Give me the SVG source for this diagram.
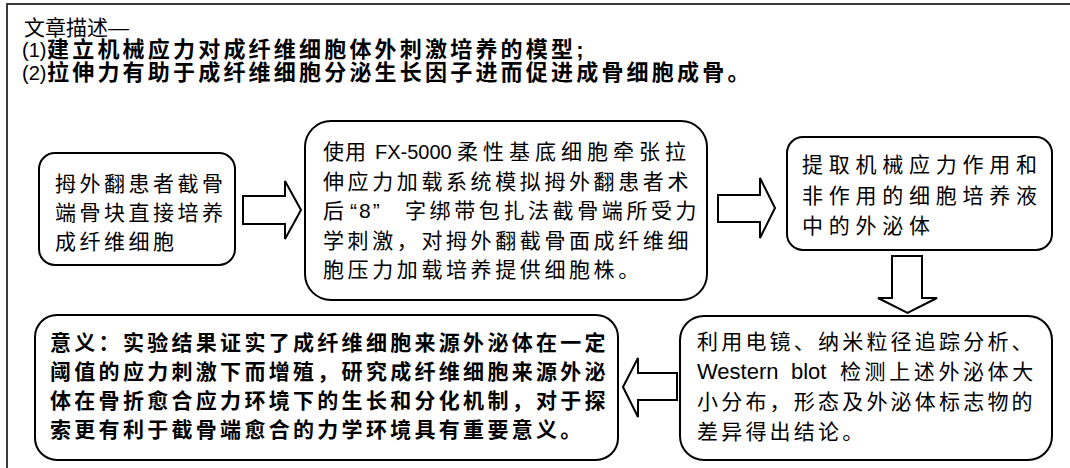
<svg xmlns="http://www.w3.org/2000/svg" width="1070" height="468" viewBox="0 0 1070 468">
<style>
.frame{fill:none;stroke:#3a3a3a;stroke-width:2}
.box{fill:#fff;stroke:#000;stroke-width:2}
.arr{fill:#fff;stroke:#000;stroke-width:2;stroke-linejoin:miter}
text{font-family:"Liberation Sans","Noto Sans CJK SC",sans-serif;font-size:21px;fill:#000}
.b{font-weight:bold}
</style>
<rect width="1070" height="468" fill="#fff"/>
<path class="frame" d="M7,468 V4 H1070"/>
<g id="title">
<text x="24" y="35" font-size="21.5">文章描述—</text>
<text x="22" y="57"><tspan font-size="20">(1)</tspan><tspan class="b" x="47" font-size="22" letter-spacing="3.2">建立机械应力对成纤维细胞体外刺激培养的模型;</tspan></text>
<text x="22" y="80"><tspan font-size="20">(2)</tspan><tspan class="b" x="47" font-size="22" letter-spacing="3.2">拉伸力有助于成纤维细胞分泌生长因子进而促进成骨细胞成骨。</tspan></text>
</g>
<g id="connectors">
<polygon class="arr" points="243,196 285,196 285,181 301,210 285,239 285,224 243,224"/>
<polygon class="arr" points="718,195 760,195 760,178 775,208 760,238 760,222 718,222"/>
<polygon class="arr" points="892,256 922,256 922,298 937,298 907.5,313 878,298 892,298"/>
<polygon class="arr" points="677,373 638,373 638,358 623,387 638,417 638,400 677,400"/>
</g>
<g id="node1">
<rect class="box" x="39" y="153" width="196" height="112" rx="16"/>
<text letter-spacing="3.5"><tspan x="55" y="191">拇外翻患者截骨</tspan><tspan x="55" y="220">端骨块直接培养</tspan><tspan x="55" y="249">成纤维细胞</tspan></text>
</g>
<g id="node2">
<rect class="box" x="305" y="121" width="402" height="179" rx="26"/>
<text><tspan x="323" y="159" letter-spacing="1">使用</tspan><tspan x="375" y="159" font-size="20">FX-5000</tspan><tspan x="457" y="159" letter-spacing="5">柔性基底细胞牵张拉</tspan></text>
<text letter-spacing="3.6"><tspan x="323" y="188.5">伸应力加载系统模拟拇外翻患者术</tspan></text>
<text><tspan x="323" y="218">后</tspan><tspan x="350" y="218" letter-spacing="2">“8”</tspan><tspan x="405" y="218" letter-spacing="3.6">字绑带包扎法截骨端所受力</tspan></text>
<text letter-spacing="3.6"><tspan x="323" y="247.5">学刺激，对拇外翻截骨面成纤维细</tspan><tspan x="323" y="277">胞压力加载培养提供细胞株。</tspan></text>
</g>
<g id="node3">
<rect class="box" x="787" y="137" width="265" height="113" rx="16"/>
<text letter-spacing="5.75"><tspan x="802" y="172">提取机械应力作用和</tspan><tspan x="802" y="203">非作用的细胞培养液</tspan><tspan x="802" y="233">中的外泌体</tspan></text>
</g>
<g id="node4">
<rect class="box" x="680" y="316" width="372" height="144" rx="24"/>
<text letter-spacing="3.2"><tspan x="697" y="349">利用电镜、纳米粒径追踪分析、</tspan></text>
<text><tspan x="697" y="379" font-size="22">Western</tspan><tspan x="791" y="379" font-size="22">blot</tspan><tspan x="840" y="379" letter-spacing="3.6">检测上述外泌体大</tspan></text>
<text letter-spacing="3.2"><tspan x="697" y="409">小分布，形态及外泌体标志物的</tspan><tspan x="697" y="439">差异得出结论。</tspan></text>
</g>
<g id="node5">
<rect class="box" x="35" y="315" width="583" height="145" rx="22"/>
<text class="b" letter-spacing="3.3"><tspan x="50" y="350">意义：实验结果证实了成纤维细胞来源外泌体在一定</tspan><tspan x="50" y="379">阈值的应力刺激下而增殖，研究成纤维细胞来源外泌</tspan><tspan x="50" y="408">体在骨折愈合应力环境下的生长和分化机制，对于探</tspan><tspan x="50" y="437">索更有利于截骨端愈合的力学环境具有重要意义。</tspan></text>
</g>
</svg>
